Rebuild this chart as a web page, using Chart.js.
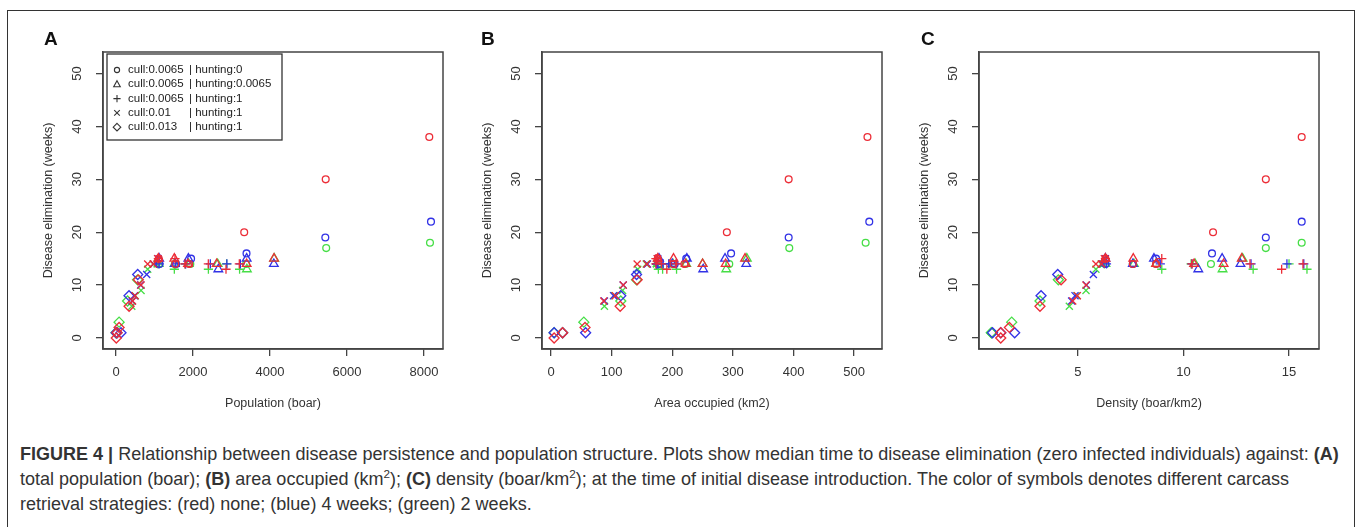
<!DOCTYPE html>
<html>
<head>
<meta charset="utf-8">
<script src="https://cdn.jsdelivr.net/npm/chart.js@4.4.0/dist/chart.umd.min.js"></script>
<style>
body { margin:0; width:1357px; height:527px; overflow:hidden; background:#fff; position:relative;
       font-family:"Liberation Sans", Arial, sans-serif; }
#frame { position:absolute; left:7px; top:10px; width:1346px; height:600px; border:1.5px solid #333; }
.panel { position:absolute; top:0; }
.tag { position:absolute; top:28px; font-weight:bold; font-size:19px; color:#111; }
#caption { position:absolute; left:20px; top:442px; line-height:25px; font-size:16px; color:#333; white-space:nowrap; }
#caption sup { font-size:0.65em; line-height:0; vertical-align:super; }
</style>
</head>
<body>
<div id="frame"></div>
<canvas id="chartA" class="panel" width="452" height="420" style="left:0px"></canvas>
<canvas id="chartB" class="panel" width="452" height="420" style="left:439px"></canvas>
<canvas id="chartC" class="panel" width="452" height="420" style="left:876px"></canvas>
<div class="tag" style="left:44px">A</div>
<div class="tag" style="left:481px">B</div>
<div class="tag" style="left:921px">C</div>
<div id="caption"><span id="line1"><b>FIGURE 4 |</b> Relationship between disease persistence and population structure. Plots show median time to disease elimination (zero infected individuals) against: <b>(A)</b></span><br>total population (boar); <b>(B)</b> area occupied (km<sup>2</sup>); <b>(C)</b> density (boar/km<sup>2</sup>); at the time of initial disease introduction. The color of symbols denotes different carcass<br>retrieval strategies: (red) none; (blue) 4 weeks; (green) 2 weeks.</div>
<script>
// each point: [population, area occupied km2, density boar/km2, weeks to elimination]
// circle: cull 0.0065 | hunting 0
var circleRed   = [[1110,176,6.3,15],[1540,202,7.6,14],[1900,220,8.7,14],[3330,290,11.4,20],[5447,392,13.9,30],[8138,522,15.6,38]];
var circleBlue  = [[1130,178,6.3,14],[1560,204,7.6,14],[1950,223,8.7,15],[3390,297,11.35,16],[5437,392,13.9,19],[8182,525,15.6,22]];
var circleGreen = [[1120,177,6.3,14],[1530,200,7.6,14],[1930,222,8.7,14],[3380,294,11.3,14],[5460,393,13.9,17],[8156,519,15.6,18]];
// triangle: cull 0.0065 | hunting 0.0065
var triRed   = [[1100,176,6.3,15],[1515,202,7.62,15],[1870,222,8.7,14],[2615,250,10.5,14],[3394,288,11.9,14],[4104,320,12.76,15]];
var triBlue  = [[1120,178,6.3,15],[1530,200,7.6,14],[1880,224,8.6,15],[2658,251,10.7,13],[3394,287,11.83,15],[4100,322,12.7,14]];
var triGreen = [[1110,176,6.3,14],[1520,201,7.65,14],[1890,223,8.7,14],[2640,250,10.55,14],[3400,289,11.85,13],[4110,323,12.8,15]];
// plus: cull 0.0065 | hunting 1
var plusRed   = [[1100,175,6.3,15],[1532,173,8.97,15],[1790,173,10.4,14],[2398,182,13.15,14],[2857,191,14.65,13],[3203,206,15.66,14]];
var plusBlue  = [[1120,176,6.35,14],[1550,174,8.9,14],[1810,174,10.4,14],[2450,185,13.2,14],[2880,194,14.9,14],[3230,207,15.7,14]];
var plusGreen = [[1090,174,6.25,14],[1515,177,8.97,13],[1800,175,10.36,14],[2400,184,13.3,13],[2874,195,15.0,14],[3210,207,15.85,13]];
// x: cull 0.01 | hunting 1
var xRed   = [[430,87,4.75,7],[494,106,4.97,8],[650,119,5.38,10],[823,142,5.85,14],[970,158,6.12,14],[1080,175,6.25,15]];
var xBlue  = [[420,88,4.7,7],[480,103,4.86,8],[640,119,5.4,10],[797,141,5.73,12],[975,159,6.15,14],[1090,176,6.3,15]];
var xGreen = [[410,88,4.59,6],[500,105,4.95,8],[650,118,5.38,9],[823,143,5.85,13],[965,157,6.1,14],[1070,174,6.2,14]];
// diamond: cull 0.013 | hunting 1
var diaRed   = [[7,5,1.34,0],[25,19,1.34,1],[80,56,1.75,2],[340,114,3.2,6],[580,142,4.2,11]];
var diaBlue  = [[5,5,0.95,1],[25,19,1.34,1],[130,57,2.0,1],[338,115,3.25,8],[563,141,4.04,12]];
var diaGreen = [[0,5,0.9,1],[18,19,0.9,1],[80,54,1.86,3],[300,115,3.2,7],[560,141,4.07,11]];

var popTicks = [0,2000,4000,6000,8000];
var areaTicks = [0,100,200,300,400,500];
var densTicks = [5,10,15];
var weekTicks = [0,10,20,30,40,50];

var legendShapes = ['circle','triangle','cross','crossRot','rectRot'];
var legendCull = ['cull:0.0065','cull:0.0065','cull:0.0065','cull:0.01','cull:0.013'];
var legendHunt = ['| hunting:0','| hunting:0.0065','| hunting:1','| hunting:1','| hunting:1'];

var RED = 'rgb(236,45,55)', BLUE = 'rgb(50,50,230)', GREEN = 'rgb(70,222,70)';
var sizes = {circle:3.4, triangle:5, cross:4.6, crossRot:5, rectRot:5};

// red first = drawn on top
var series = [
  [circleRed,'circle',RED],[triRed,'triangle',RED],[plusRed,'cross',RED],[xRed,'crossRot',RED],[diaRed,'rectRot',RED],
  [circleBlue,'circle',BLUE],[triBlue,'triangle',BLUE],[plusBlue,'cross',BLUE],[xBlue,'crossRot',BLUE],[diaBlue,'rectRot',BLUE],
  [circleGreen,'circle',GREEN],[triGreen,'triangle',GREEN],[plusGreen,'cross',GREEN],[xGreen,'crossRot',GREEN],[diaGreen,'rectRot',GREEN]
];

Chart.defaults.font.family = '"Liberation Sans", Arial, sans-serif';
Chart.defaults.color = '#333';

function drawSymbol(ctx, shape, x, y) {
  ctx.beginPath();
  if (shape == 'circle') {
    ctx.arc(x, y, 2.6, 0, Math.PI * 2);
  } else if (shape == 'triangle') {
    ctx.moveTo(x, y - 3.6); ctx.lineTo(x + 3.3, y + 2.4); ctx.lineTo(x - 3.3, y + 2.4); ctx.closePath();
  } else if (shape == 'cross') {
    ctx.moveTo(x - 3.6, y); ctx.lineTo(x + 3.6, y); ctx.moveTo(x, y - 3.6); ctx.lineTo(x, y + 3.6);
  } else if (shape == 'crossRot') {
    ctx.moveTo(x - 2.8, y - 2.8); ctx.lineTo(x + 2.8, y + 2.8); ctx.moveTo(x + 2.8, y - 2.8); ctx.lineTo(x - 2.8, y + 2.8);
  } else {
    ctx.moveTo(x, y - 3.8); ctx.lineTo(x + 3.8, y); ctx.lineTo(x, y + 3.8); ctx.lineTo(x - 3.8, y); ctx.closePath();
  }
  ctx.stroke();
}

var boxPlugin = {
  id: 'box',
  afterDraw: function(chart) {
    var a = chart.chartArea, ctx = chart.ctx;
    ctx.save();
    ctx.strokeStyle = '#444';
    ctx.lineWidth = 1.5;
    ctx.strokeRect(a.left, a.top, a.right - a.left, a.bottom - a.top);
    ctx.restore();
  }
};

var legendPlugin = {
  id: 'rlegend',
  afterDraw: function(chart) {
    if (!chart.options.plugins.rlegend.show) return;
    var a = chart.chartArea, ctx = chart.ctx;
    var x0 = a.left + 4, y0 = a.top + 2;
    ctx.save();
    ctx.strokeStyle = '#333';
    ctx.lineWidth = 1.3;
    ctx.strokeRect(x0, y0, 175, 86);
    ctx.font = '11.5px "Liberation Sans", Arial, sans-serif';
    ctx.fillStyle = '#222';
    ctx.textBaseline = 'middle';
    ctx.lineWidth = 1.1;
    for (var i = 0; i < legendCull.length; i++) {
      var y = y0 + 16 + i * 14.3;
      drawSymbol(ctx, legendShapes[i], x0 + 10, y);
      ctx.fillText(legendCull[i], x0 + 21, y);
      ctx.fillText(legendHunt[i], x0 + 82, y);
    }
    ctx.restore();
  }
};

function makeChart(id, col, title, ticks, xmin, xmax, legend) {
  var datasets = series.map(function(s) {
    return {
      data: s[0].map(function(p) { return {x: p[col], y: p[3]}; }),
      pointStyle: s[1],
      pointRadius: sizes[s[1]],
      pointBorderColor: s[2],
      pointBackgroundColor: 'rgba(0,0,0,0)',
      pointBorderWidth: 1.3,
      showLine: false
    };
  });
  new Chart(document.getElementById(id), {
    type: 'scatter',
    data: {datasets: datasets},
    options: {
      responsive: false,
      animation: false,
      events: [],
      layout: {padding: {left: 34, top: 52, right: 9, bottom: 0}},
      plugins: {legend: {display: false}, tooltip: {enabled: false}, rlegend: {show: legend}},
      scales: {
        x: {
          type: 'linear', min: xmin, max: xmax,
          afterBuildTicks: function(s) { s.ticks = ticks.map(function(v) { return {value: v}; }); },
          afterFit: function(s) { s.height = 71; },
          grid: {drawOnChartArea: false, drawTicks: true, tickLength: 7, color: '#444', lineWidth: 1.3},
          border: {display: true, color: '#444', width: 1.5},
          ticks: {font: {size: 13}, padding: 9, color: '#333', maxRotation: 0,
                  callback: function(v) { return String(v); }},
          title: {display: true, text: title, font: {size: 12.5}, color: '#333', padding: {top: 4, bottom: 8.5}}
        },
        y: {
          type: 'linear', min: -2.08, max: 54.08,
          afterBuildTicks: function(s) { s.ticks = weekTicks.map(function(v) { return {value: v}; }); },
          afterFit: function(s) { s.width = 69; },
          grid: {drawOnChartArea: false, drawTicks: true, tickLength: 7, color: '#444', lineWidth: 1.3},
          border: {display: true, color: '#444', width: 1.5},
          ticks: {font: {size: 13}, padding: 11, color: '#333', minRotation: 90, maxRotation: 90, crossAlign: 'center', autoSkip: false,
                  callback: function(v) { return String(v); }},
          title: {display: true, text: 'Disease elimination (weeks)', font: {size: 12.5}, color: '#333', padding: {top: 7, bottom: 4}}
        }
      }
    },
    plugins: [boxPlugin, legendPlugin]
  });
}

makeChart('chartA', 0, 'Population (boar)', popTicks, -338, 8494, true);
makeChart('chartB', 1, 'Area occupied (km2)', areaTicks, -15, 546, false);
makeChart('chartC', 2, 'Density (boar/km2)', densTicks, 0.31, 16.42, false);

// fit caption first line to the figure width
var cap = document.getElementById('caption');
var w = document.getElementById('line1').getBoundingClientRect().width;
cap.style.fontSize = (16 * 1320 / w).toFixed(2) + 'px';
</script>
</body>
</html>
